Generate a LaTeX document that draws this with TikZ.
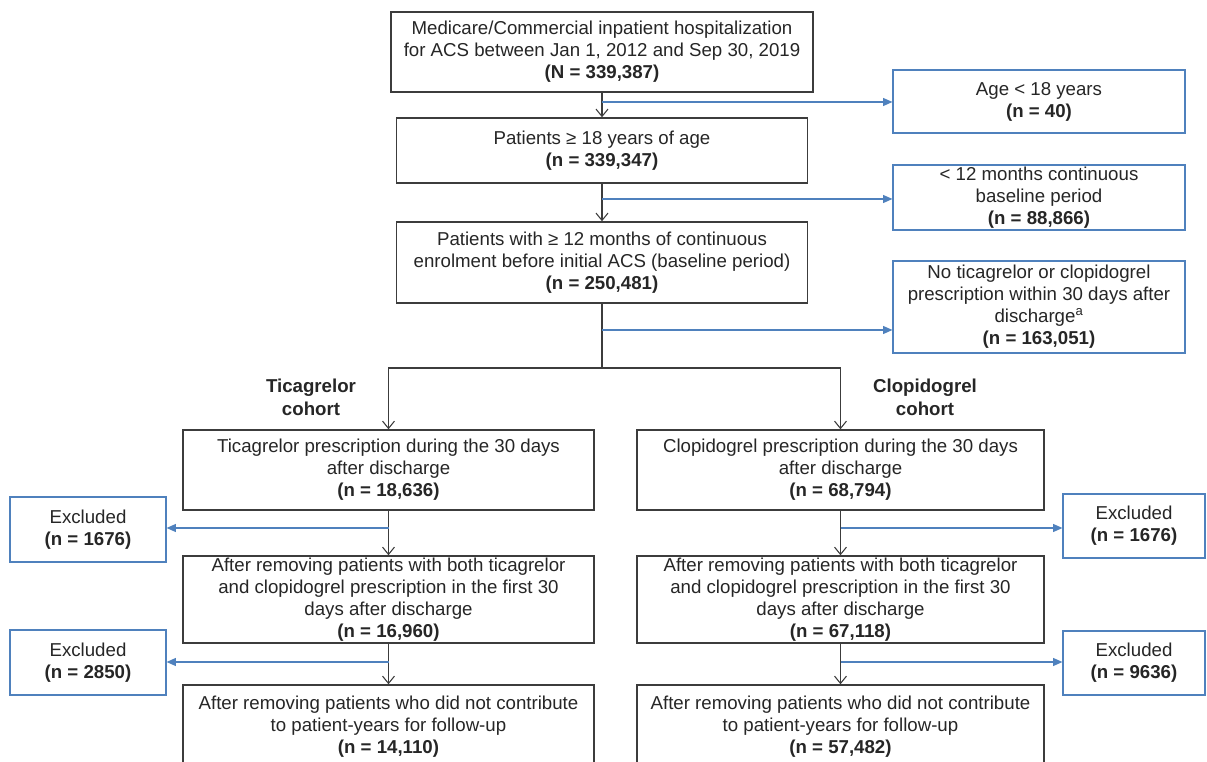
\documentclass[tikz,border=0pt]{standalone}
\usepackage{fontspec}
\setmainfont{Liberation Sans}
\usetikzlibrary{arrows.meta,positioning,calc}
\definecolor{exblue}{RGB}{79,129,189}
\definecolor{boxgray}{RGB}{60,60,60}

\begin{document}
\begin{tikzpicture}[
    x=0.75pt, y=-0.75pt,
    font=\fontsize{14}{16.5}\selectfont,
    mainbox/.style={
        rectangle,
        draw=boxgray,
        line width=1.1pt,
        align=center,
        inner sep=0pt,
        text=black!85
    },
    exclbox/.style={
        rectangle,
        draw=exblue,
        line width=0.9pt,
        align=center,
        inner sep=0pt,
        text=black!85
    },
    cohort/.style={
        align=center,
        text=black!85,
        font=\fontsize{14}{17.25}\selectfont\bfseries
    },
    line/.style={
        draw=boxgray,
        line width=0.8pt
    },
    arrow/.style={
        line,
        -{Straight Barb[length=5.5pt,width=9pt]}
    },
    exline/.style={
        draw=exblue,
        line width=0.8pt,
        -{Triangle[length=7pt,width=6pt]}
    }
]

    % Frame
    \path[use as bounding box, fill=white] (0,0) rectangle (1207,762);
    \clip (0,0) rectangle (1207,762);

    % Main trunk
    \node [mainbox, minimum width=316.5pt, minimum height=60pt] (hosp) at (602,52)
        {Medicare/Commercial inpatient hospitalization\\for ACS between Jan 1, 2012 and Sep 30, 2019\\\textbf{(N = 339,387)}};
    \node [mainbox, minimum width=308.25pt, minimum height=48.75pt] (adult) at (602,150.5)
        {Patients ≥ 18 years of age\\\textbf{(n = 339,347)}};
    \node [mainbox, minimum width=308.25pt, minimum height=60.75pt] (enrol) at (602,262.5)
        {Patients with ≥ 12 months of continuous\\enrolment before initial ACS (baseline period)\\\textbf{(n = 250,481)}};

    % Exclusions on the right
    \node [exclbox, minimum width=219pt, minimum height=47.25pt] (ex_age) at (1039,101.5)
        {Age < 18 years\\\textbf{(n = 40)}};
    \node [exclbox, minimum width=219pt, minimum height=48.75pt] (ex_base) at (1039,197.5)
        {< 12 months continuous\\baseline period\\\textbf{(n = 88,866)}};
    \node [exclbox, minimum width=219pt, minimum height=69pt] (ex_rx) at (1039,307)
        {No ticagrelor or clopidogrel\\prescription within 30 days after\\discharge\textsuperscript{a}\\\textbf{(n = 163,051)}};

    % Cohort labels
    \node [cohort] (lab_tica) at (311,397.5) {Ticagrelor\\cohort};
    \node [cohort] (lab_clop) at (925,397.5) {Clopidogrel\\cohort};

    % Ticagrelor column
    \node [mainbox, minimum width=308.25pt, minimum height=60pt] (tica) at (388.5,470)
        {Ticagrelor prescription during the 30 days\\after discharge\\\textbf{(n = 18,636)}};
    \node [mainbox, minimum width=308.25pt, minimum height=65.25pt] (tica_both) at (388.5,599.5)
        {After removing patients with both ticagrelor\\and clopidogrel prescription in the first 30\\days after discharge\\\textbf{(n = 16,960)}};
    \node [mainbox, minimum width=308.25pt, minimum height=63pt] (tica_fu) at (388.5,727)
        {After removing patients who did not contribute\\to patient-years for follow-up\\\textbf{(n = 14,110)}};
    \node [exclbox, minimum width=117pt, minimum height=48.75pt] (ex_tica1) at (88,529.5)
        {Excluded\\\textbf{(n = 1676)}};
    \node [exclbox, minimum width=117pt, minimum height=48.75pt] (ex_tica2) at (88,662.5)
        {Excluded\\\textbf{(n = 2850)}};

    % Clopidogrel column
    \node [mainbox, minimum width=305.25pt, minimum height=60pt] (clop) at (840.5,470)
        {Clopidogrel prescription during the 30 days\\after discharge\\\textbf{(n = 68,794)}};
    \node [mainbox, minimum width=305.25pt, minimum height=65.25pt] (clop_both) at (840.5,599.5)
        {After removing patients with both ticagrelor\\and clopidogrel prescription in the first 30\\days after discharge\\\textbf{(n = 67,118)}};
    \node [mainbox, minimum width=305.25pt, minimum height=63pt] (clop_fu) at (840.5,727)
        {After removing patients who did not contribute\\to patient-years for follow-up\\\textbf{(n = 57,482)}};
    \node [exclbox, minimum width=106.5pt, minimum height=48pt] (ex_clop1) at (1134,526)
        {Excluded\\\textbf{(n = 1676)}};
    \node [exclbox, minimum width=106.5pt, minimum height=48pt] (ex_clop2) at (1134,663)
        {Excluded\\\textbf{(n = 9636)}};

    % Branch points
    \coordinate (br_age) at (602,102);
    \coordinate (br_base) at (602,199);
    \coordinate (br_rx) at (602,330);
    \coordinate (split) at (602,368);
    \coordinate (br_tica1) at (388.5,528);
    \coordinate (br_tica2) at (388.5,662);
    \coordinate (br_clop1) at (840.5,528);
    \coordinate (br_clop2) at (840.5,662);

    % Edges
    \path [arrow] (hosp) -- (adult);
    \path [arrow] (adult) -- (enrol);
    \path [line] (enrol) -- (split);
    \path [arrow] (split) -| (tica);
    \path [arrow] (split) -| (clop);
    \path [arrow] (tica) -- (tica_both);
    \path [arrow] (tica_both) -- (tica_fu);
    \path [arrow] (clop) -- (clop_both);
    \path [arrow] (clop_both) -- (clop_fu);

    \path [exline] (br_age) -- (br_age -| ex_age.west);
    \path [exline] (br_base) -- (br_base -| ex_base.west);
    \path [exline] (br_rx) -- (br_rx -| ex_rx.west);
    \path [exline] (br_tica1) -- (br_tica1 -| ex_tica1.east);
    \path [exline] (br_tica2) -- (br_tica2 -| ex_tica2.east);
    \path [exline] (br_clop1) -- (br_clop1 -| ex_clop1.west);
    \path [exline] (br_clop2) -- (br_clop2 -| ex_clop2.west);

\end{tikzpicture}
\end{document}
